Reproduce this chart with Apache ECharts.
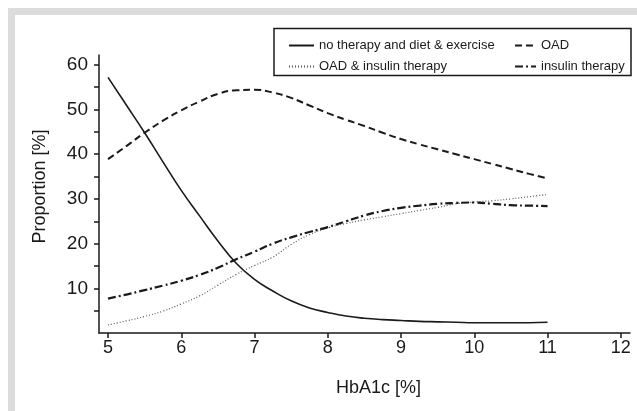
<!DOCTYPE html>
<html>
<head>
<meta charset="utf-8">
<script src="https://cdn.jsdelivr.net/npm/echarts@6/dist/echarts.min.js"></script>
<style>
  html, body { margin: 0; padding: 0; background: #fff; }
  #chart { width: 637px; height: 411px; }
</style>
</head>
<body>
<div id="chart"></div>
<script>
// HbA1c values (x) shared by all curves
const hba1c = [5, 5.25, 5.5, 5.75, 6, 6.25, 6.5, 6.75, 7, 7.25, 7.5, 7.75, 8,
  8.25, 8.5, 8.75, 9, 9.25, 9.5, 9.75, 10, 10.25, 10.5, 10.75, 11];

const noTherapy = [57.2, 51.0, 44.8, 38.3, 31.9, 26.2, 20.6, 15.6, 12.0, 9.4, 7.2, 5.6, 4.6,
  3.8, 3.3, 3.0, 2.8, 2.6, 2.5, 2.4, 2.3, 2.3, 2.3, 2.3, 2.4];
const oad = [38.9, 41.8, 44.8, 47.5, 49.8, 51.8, 53.5, 54.3, 54.4, 53.8, 52.6, 50.9, 49.2,
  47.7, 46.3, 44.8, 43.4, 42.2, 41.1, 40.0, 38.9, 37.8, 36.7, 35.6, 34.6];
const oadInsulin = [1.8, 2.7, 3.7, 4.9, 6.5, 8.3, 10.7, 13.1, 15.1, 17.0, 19.8, 22.0, 23.5,
  24.5, 25.3, 26.0, 26.7, 27.4, 28.1, 28.9, 29.3, 29.6, 30.0, 30.5, 31.0];
const insulin = [7.7, 8.6, 9.6, 10.6, 11.7, 13.0, 14.6, 16.5, 18.2, 20.0, 21.4, 22.6, 23.7,
  25.0, 26.3, 27.3, 28.0, 28.5, 28.9, 29.1, 29.2, 28.9, 28.6, 28.5, 28.4];

const xTicks = [5, 6, 7, 8, 9, 10, 11, 12];
const yLabels = [10, 20, 30, 40, 50, 60];
const yTicks = [5, 10, 15, 20, 25, 30, 35, 40, 45, 50, 55, 60];

const names = [
  "no therapy and diet & exercise",
  "OAD",
  "OAD & insulin therapy",
  "insulin therapy",
];

const pairs = (ys) => hba1c.map((x, i) => [x, ys[i]]);

const ink = "#1a1a1a";
const font = "Liberation Sans, Arial, sans-serif";

const chart = echarts.init(document.getElementById("chart"), null, { renderer: "canvas" });

const line = (name, ys, lineStyle) => ({
  name,
  type: "line",
  data: pairs(ys),
  smooth: true,
  symbol: "none",
  lineStyle: Object.assign({ color: ink }, lineStyle),
  itemStyle: { color: ink },
});

const legendText = { color: ink, fontSize: 13, fontFamily: font };
const legendBase = {
  orient: "vertical",
  top: 34,
  itemHeight: 14,
  itemGap: 8,
  textStyle: legendText,
  selectedMode: false,
  itemStyle: { opacity: 0 },
};

chart.setOption({
  animation: false,
  backgroundColor: "#fff",
  graphic: [
    // grey frame along top and left
    { type: "rect", shape: { x: 8, y: 8, width: 629, height: 7 }, style: { fill: "#dcdcdc" }, silent: true },
    { type: "rect", shape: { x: 8, y: 8, width: 7, height: 403 }, style: { fill: "#dcdcdc" }, silent: true },
    // legend box
    {
      type: "rect",
      shape: { x: 274, y: 28.5, width: 357, height: 47 },
      style: { fill: "none", stroke: ink, lineWidth: 1.5 },
      silent: true,
      z: 10,
    },
  ],
  legend: [
    Object.assign({}, legendBase, { data: [names[0], names[2]], left: 283, itemWidth: 25 }),
    Object.assign({}, legendBase, { data: [names[1], names[3]], left: 509, itemWidth: 21 }),
  ],
  grid: { left: 99, right: 7, top: 55, bottom: 78 },
  xAxis: {
    type: "value",
    min: 4.877,
    max: 12.126,
    name: "HbA1c [%]",
    nameLocation: "middle",
    nameGap: 46,
    nameTextStyle: { color: ink, fontSize: 18, fontFamily: font, padding: [0, 0, 0, 28] },
    axisLine: { lineStyle: { color: ink, width: 1.5 } },
    axisTick: { show: true, inside: false, length: 5, lineStyle: { color: ink, width: 1.5 }, customValues: xTicks },
    axisLabel: { color: ink, fontSize: 18, fontFamily: font, margin: 6, customValues: xTicks },
    splitLine: { show: false },
  },
  yAxis: {
    type: "value",
    min: 0,
    max: 62.2,
    name: "Proportion [%]",
    nameLocation: "middle",
    nameGap: 50,
    nameRotate: 90,
    nameTextStyle: { color: ink, fontSize: 18, fontFamily: font, padding: [0, 0, 0, 15] },
    axisLine: { show: true, lineStyle: { color: ink, width: 1.5 } },
    axisTick: { show: true, length: 5, lineStyle: { color: ink, width: 1.5 }, customValues: yTicks },
    axisLabel: { color: ink, fontSize: 19, fontFamily: font, margin: 11, customValues: yLabels },
    splitLine: { show: false },
  },
  series: [
    line(names[0], noTherapy, { width: 1.6, type: "solid" }),
    line(names[1], oad, { width: 2, type: [7, 4] }),
    line(names[2], oadInsulin, { width: 1.2, type: [1, 2], color: "#555" }),
    line(names[3], insulin, { width: 2.2, type: [8, 3, 2, 3] }),
  ],
});
</script>
</body>
</html>
